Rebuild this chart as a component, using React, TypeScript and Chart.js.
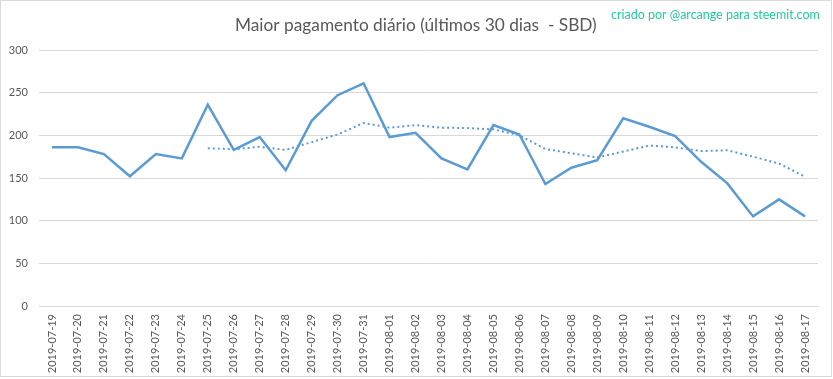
import React, { useEffect, useRef } from "react";
import { Chart, registerables } from "chart.js";

Chart.register(...registerables);

const categories = [
  "2019-07-19", "2019-07-20", "2019-07-21", "2019-07-22", "2019-07-23", "2019-07-24",
  "2019-07-25", "2019-07-26", "2019-07-27", "2019-07-28", "2019-07-29", "2019-07-30",
  "2019-07-31", "2019-08-01", "2019-08-02", "2019-08-03", "2019-08-04", "2019-08-05",
  "2019-08-06", "2019-08-07", "2019-08-08", "2019-08-09", "2019-08-10", "2019-08-11",
  "2019-08-12", "2019-08-13", "2019-08-14", "2019-08-15", "2019-08-16", "2019-08-17",
];

const maxPayout = [
  186, 186, 178, 152, 178, 173, 236, 183, 198, 159, 217, 247, 261, 198, 203,
  173, 160, 212, 201, 143, 162, 171, 220, 210, 199, 169, 144, 105, 125, 105,
];

const movingAverage = [
  null, null, null, null, null, null, 185, 183.5, 186.5, 183, 192, 201, 214.5, 209, 212,
  209, 208.5, 207, 200, 184, 179, 174, 181, 188, 186, 181.5, 182.5, 175, 167, 151.5,
];

const yTicks = [0, 50, 100, 150, 200, 250, 300];

const titleText = "Maior pagamento diário (últimos 30 dias  - SBD)";
const watermarkText = "criado por @arcange para steemit.com";

const W = 833;
const H = 379;
const FONT = "Lato, 'Noto Sans', sans-serif";

function fitFont(ctx: CanvasRenderingContext2D, text: string, targetWidth: number) {
  ctx.font = `20px ${FONT}`;
  const w = ctx.measureText(text).width;
  const size = (20 * targetWidth) / w;
  ctx.font = `${size.toFixed(2)}px ${FONT}`;
}

export default function App() {
  const ref = useRef<HTMLCanvasElement | null>(null);

  useEffect(() => {
    document.body.style.margin = "0";
    const canvas = ref.current;
    if (!canvas) return;

    const framePlugin = {
      id: "frame",
      beforeDraw(chart: any) {
        const ctx = chart.ctx;
        ctx.save();
        ctx.fillStyle = "#ffffff";
        ctx.fillRect(0, 0, W, H);
        ctx.restore();
      },
      afterDraw(chart: any) {
        const ctx = chart.ctx;
        ctx.save();
        ctx.strokeStyle = "#d9d9d9";
        ctx.lineWidth = 1;
        ctx.strokeRect(0.5, 0.5, 831, 376);
        ctx.fillStyle = "#595959";
        fitFont(ctx, titleText, 362);
        ctx.textAlign = "left";
        ctx.textBaseline = "middle";
        ctx.fillText(titleText, 235, 25);
        ctx.fillStyle = "#1fcc9f";
        fitFont(ctx, watermarkText, 209);
        ctx.fillText(watermarkText, 611, 15);
        ctx.restore();
      },
    };

    const chart = new Chart(canvas, {
      type: "line",
      data: {
        labels: categories,
        datasets: [
          {
            label: "Maior pagamento",
            data: maxPayout,
            borderColor: "#5b9bd5",
            backgroundColor: "#5b9bd5",
            borderWidth: 2.5,
            pointRadius: 0,
            tension: 0,
          },
          {
            label: "Média móvel",
            data: movingAverage as any,
            borderColor: "#5b9bd5",
            backgroundColor: "#5b9bd5",
            borderWidth: 2,
            borderDash: [2, 3],
            pointRadius: 0,
            tension: 0,
          },
        ],
      },
      options: {
        responsive: false,
        animation: false,
        layout: { padding: { left: 0, right: 15, top: 50, bottom: 0 } },
        plugins: {
          legend: { display: false },
          tooltip: { enabled: false },
          title: { display: false },
        },
        scales: {
          x: {
            type: "category",
            offset: true,
            grid: { display: false, drawTicks: false },
            border: { display: true, color: "#d9d9d9", width: 1 },
            ticks: {
              color: "#595959",
              font: { family: FONT, size: 11 },
              minRotation: 90,
              maxRotation: 90,
              autoSkip: false,
              padding: 8,
            },
            afterFit(scale: any) {
              scale.height = H - 306;
            },
          },
          y: {
            min: 0,
            max: 300,
            afterBuildTicks(scale: any) {
              scale.ticks = yTicks.map((v) => ({ value: v }));
            },
            grid: { color: "#d9d9d9", drawTicks: false, lineWidth: 1 },
            border: { display: false },
            ticks: {
              color: "#595959",
              font: { family: FONT, size: 11 },
              padding: 11,
            },
            afterFit(scale: any) {
              scale.width = 39;
            },
          },
        },
      },
      plugins: [framePlugin],
    });

    return () => chart.destroy();
  }, []);

  return (
    <div style={{ width: W, height: H }}>
      <canvas ref={ref} width={W} height={H} style={{ display: "block" }} />
    </div>
  );
}
